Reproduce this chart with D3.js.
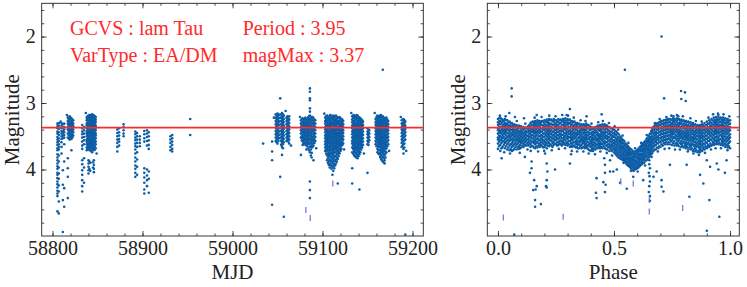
<!DOCTYPE html>
<html>
<head>
<meta charset="utf-8">
<script src="https://cdn.jsdelivr.net/npm/d3@7"></script>
<style>
  body { margin: 0; background: #fff; }
  text { font-family: "Liberation Serif", "DejaVu Serif", serif; }
</style>
</head>
<body>
<svg></svg>
<script>
// light curve of lam Tau: time series (left) and folded on the period (right)

var width = 747;
var height = 287;

// axis settings
var magDomain = [1.5, 5.0];
var mjdDomain = [58788, 59212];
var phaseDomain = [-0.046, 1.04];
var mjdTicks = [58800, 58900, 59000, 59100, 59200];
var phaseTicks = [0.0, 0.5, 1.0];
var magTicks = [2, 3, 4];
var magMax = 3.37;
var infoLeft = ["GCVS : lam Tau", "VarType : EA/DM"];
var infoRight = ["Period : 3.95", "magMax : 3.37"];

// MJD columns: [mjd, [magnitudes]]
var mjdColumns = [
  [58805.5, [3.31,3.35,3.38,3.43,3.46,3.51,3.55,3.59,3.63,3.68,3.71,3.77,3.82,3.86,3.91,3.95,3.99,4.05,4.08,4.13,4.18,4.22,4.27,4.32,4.36,4.40,4.63]],
  [58807, [3.30,3.34,3.39,3.44,3.48,3.53,3.57,3.62,3.66,3.70,3.79,3.88,3.97,4.06,4.14,4.24,4.33,4.48,4.66]],
  [58810, [3.30,3.34,3.38,3.42,3.46,3.50,3.54,3.59,3.66,3.76]],
  [58811.5, [3.32,3.37,3.42,3.45,3.49,3.53,4.01,4.23,4.46,4.94]],
  [58813, [3.31,3.36,3.40,3.44,3.48,3.52,3.62,3.88,4.28,4.56]],
  [58817, [3.22,3.27,3.31,3.36,3.40,3.46,3.52,3.83,3.98,4.11,4.43]],
  [58818, [3.21,3.25,3.30,3.34,3.39,3.43,3.48,3.53]],
  [58819, [3.20,3.24,3.29,3.33,3.38,3.42,3.47,3.51,3.55]],
  [58820, [3.22,3.26,3.31,3.35,3.40,3.44,3.49,3.53]],
  [58821, [3.23,3.28,3.32,3.37,3.41,3.45,3.50,3.54,3.71]],
  [58822, [3.25,3.29,3.34,3.38,3.43,3.47,3.52]],
  [58823, [3.26,3.31,3.35,3.40,3.44,3.49]],
  [58833, [3.33,3.38,3.43,3.47,3.52,3.58,3.64,3.69,3.86,3.92,4.01,4.08,4.16,4.25,4.33]],
  [58835, [3.36,3.41,3.46,3.51,3.56,3.62,3.83,3.97,4.20]],
  [58838, [3.22,3.26,3.31,3.34,3.38,3.43,3.46,3.50,3.55,3.58,3.62,3.67,3.71]],
  [58839, [3.20,3.24,3.29,3.33,3.37,3.41,3.45,3.49,3.53,3.57,3.61,3.65,3.69]],
  [58840, [3.19,3.23,3.27,3.32,3.35,3.39,3.44,3.47,3.51,3.56,3.59,3.63,3.68,3.86,3.91,3.96,4.01,4.06]],
  [58841, [3.18,3.22,3.26,3.30,3.34,3.38,3.42,3.46,3.50,3.54,3.58,3.62,3.66,3.71,3.88,3.99]],
  [58842, [3.18,3.21,3.25,3.30,3.33,3.37,3.42,3.45,3.49,3.54,3.57,3.61,3.66,3.70,3.90,4.02]],
  [58843, [3.19,3.23,3.27,3.31,3.35,3.39,3.43,3.47,3.51,3.55,3.59,3.63,3.67,3.72]],
  [58844, [3.17,3.20,3.24,3.28,3.33,3.36,3.40,3.45,3.48,3.52,3.57,3.60,3.64,3.69,3.74]],
  [58845, [3.18,3.22,3.26,3.30,3.34,3.38,3.42,3.46,3.50,3.54,3.58,3.62,3.66,3.70,3.89,3.97]],
  [58846, [3.19,3.23,3.28,3.31,3.35,3.40,3.43,3.47,3.52,3.55,3.59,3.64,3.67,3.71,3.86,3.93,3.99,4.04]],
  [58847, [3.20,3.24,3.28,3.32,3.36,3.40,3.44,3.48,3.52,3.56,3.60,3.65,3.70]],
  [58848, [3.21,3.25,3.29,3.34,3.37,3.41,3.46,3.49,3.53,3.58,3.62,3.68]],
  [58872, [3.40,3.45,3.50,3.55,3.60,3.66,3.73]],
  [58874, [3.38,3.44,3.49,3.54,3.58,3.64]],
  [58879, [3.32,3.36,3.41,3.46,3.50]],
  [58892, [3.43,3.47,3.52,3.56,3.61,3.65,3.70,3.76,3.82,3.88,3.94,3.99,4.05,4.11]],
  [58894, [3.45,3.50,3.55,3.60,3.66,3.74,3.85,3.96,4.08]],
  [58897, [3.50,3.55,3.60,3.65]],
  [58902, [3.42,3.47,3.53,3.58,3.98,4.05,4.12,4.20,4.30,4.36]],
  [58905, [3.41,3.46,3.51,3.57,3.64,4.00,4.09,4.16,4.25]],
  [58907, [3.44,3.50,3.56,3.63,3.69,4.03,4.14,4.35]],
  [58931, [3.50,3.55,3.60,3.66,3.71]],
  [58933, [3.48,3.53,3.58,3.63,3.69,3.73]],
  [58953, [3.24,3.48]],
  [59034, [3.61]],
  [59044, [3.58,3.73,3.86,4.53]],
  [59048, [3.17,3.22,3.27,3.32,3.37,3.42,3.47,3.52,3.57]],
  [59049, [3.18,3.24,3.29,3.34,3.39,3.44,3.49,3.54,3.59]],
  [59050, [3.16,3.20,3.25,3.30,3.35,3.40,3.45,3.50,3.55,3.61]],
  [59051, [3.17,3.22,3.27,3.32,3.37,3.42,3.47,3.52,3.57]],
  [59052, [3.18,3.23,3.28,3.33,3.38,3.43,3.48,3.53]],
  [59053, [2.93,4.11]],
  [59054, [3.17,3.22,3.27,3.32,3.37,3.42,3.47,3.52,3.57,3.63]],
  [59055, [3.15,3.20,3.25,3.30,3.35,3.40,3.45,3.50,3.55,3.60,3.66,3.78]],
  [59056, [3.17,3.22,3.27,3.32,3.37,3.42,3.47,3.52,3.57,3.62,3.68]],
  [59057, [3.19,3.24,3.29,3.34,3.39,3.44,3.49,3.54,3.59,4.71]],
  [59060, [3.22,3.27,3.32,3.37,3.42,3.47,3.52,3.57]],
  [59061, [3.20,3.25,3.30,3.35,3.40,3.45,3.50,3.55]],
  [59062, [3.23,3.28,3.33,3.38,3.43,3.48,3.53,3.58]],
  [59063, [3.20,3.25,3.30,3.35,3.40,3.45,3.50,3.55,3.61]],
  [59076, [3.26,3.31,3.36,3.41,3.46,3.52,3.78]],
  [59077, [3.24,3.29,3.34,3.39,3.44,3.50,3.56]],
  [59078, [3.23,3.28,3.33,3.38,3.43,3.48,3.53,3.58,3.63]],
  [59079, [3.25,3.31,3.36,3.41,3.46,3.51,3.56,3.61]],
  [59080, [3.24,3.29,3.34,3.39,3.44,3.49,3.54,3.60]],
  [59081, [3.22,3.27,3.32,3.37,3.42,3.47,3.52,3.57,3.63]],
  [59082, [3.25,3.30,3.35,3.40,3.45,3.50,3.55,3.61,3.70]],
  [59083, [3.24,3.29,3.34,3.39,3.44,3.49,3.54,3.59,3.65]],
  [59084, [3.22,3.27,3.32,3.37,3.42,3.47,3.52,3.57,3.62,3.68]],
  [59085, [3.20,3.25,3.30,3.35,3.40,3.45,3.50,3.55,3.61,3.71]],
  [59086, [2.78,2.83,2.93,2.96,3.08,3.13,3.19,3.24,3.29,3.34,3.39,3.44,3.49,3.54,3.60,3.66,3.74,4.18,4.31,4.43]],
  [59087, [3.23,3.28,3.33,3.38,3.43,3.48,3.53,3.58,3.64,3.70,3.79]],
  [59088, [3.21,3.26,3.31,3.36,3.41,3.46,3.51,3.56,3.61,3.67,3.75,3.82]],
  [59089, [3.21,3.26,3.31,3.36,3.41,3.46,3.51,3.56,3.61,3.66]],
  [59090, [3.23,3.28,3.33,3.38,3.43,3.48,3.53,3.58,3.64,3.86]],
  [59091, [3.25,3.30,3.35,3.40,3.45,3.50,3.55,3.60]],
  [59092, [3.26,3.31,3.36,3.41,3.46,3.51,3.57]],
  [59103, [3.22,3.27,3.31,3.36,3.40,3.44,3.49,3.53,3.58,3.62,3.67,3.72]],
  [59104, [3.20,3.25,3.29,3.34,3.38,3.42,3.47,3.51,3.56,3.60,3.65,3.70,3.76]],
  [59105, [3.19,3.24,3.28,3.33,3.37,3.41,3.46,3.50,3.54,3.59,3.63,3.68,3.73,3.79,3.86]],
  [59106, [3.22,3.26,3.31,3.35,3.39,3.44,3.48,3.52,3.57,3.61,3.66,3.71,3.77,3.83,3.90]],
  [59107, [3.21,3.25,3.30,3.34,3.38,3.43,3.47,3.52,3.56,3.60,3.65,3.70,3.75,3.80,3.87,3.93]],
  [59108, [3.19,3.24,3.28,3.33,3.37,3.42,3.46,3.50,3.55,3.59,3.64,3.68,3.73,3.78,3.85,3.91,3.97]],
  [59109, [3.18,3.23,3.27,3.31,3.36,3.40,3.45,3.49,3.53,3.58,3.62,3.67,3.71,3.76,3.82,3.88,3.94]],
  [59110, [3.21,3.25,3.30,3.34,3.39,3.43,3.48,3.52,3.57,3.61,3.66,3.71,3.76,3.81,3.87,3.93,3.99]],
  [59111, [3.20,3.24,3.29,3.33,3.38,3.42,3.46,3.51,3.55,3.60,3.64,3.69,3.74,3.78,3.84,3.90,3.96,4.08]],
  [59112, [3.19,3.23,3.28,3.32,3.37,3.41,3.45,3.50,3.54,3.59,3.63,3.68,3.72,3.78,3.83,3.89,3.95,4.02]],
  [59113, [3.22,3.26,3.30,3.35,3.39,3.44,3.48,3.52,3.57,3.61,3.66,3.70,3.75,3.81,3.86,3.92,3.98]],
  [59114, [3.20,3.25,3.29,3.33,3.38,3.42,3.47,3.51,3.56,3.60,3.65,3.69,3.74,3.80,3.87,3.94]],
  [59115, [3.19,3.24,3.28,3.32,3.37,3.41,3.46,3.50,3.54,3.59,3.63,3.68,3.73,3.79,3.85,3.91]],
  [59116, [3.21,3.26,3.30,3.35,3.39,3.44,3.48,3.53,3.57,3.61,3.66,3.71,3.76,3.82,3.88]],
  [59117, [3.23,3.27,3.31,3.36,3.40,3.45,3.49,3.53,3.58,3.62,3.67,3.72,3.77,3.84,4.21]],
  [59118, [3.22,3.28,3.32,3.37,3.41,3.46,3.50,3.55,3.59,3.64,3.69,3.74,3.80]],
  [59119, [3.21,3.26,3.30,3.34,3.39,3.43,3.48,3.52,3.56,3.61,3.65,3.70,3.76]],
  [59120, [3.23,3.27,3.32,3.36,3.41,3.45,3.50,3.54,3.59,3.63,3.68,3.72]],
  [59121, [3.24,3.28,3.33,3.37,3.42,3.46,3.51,3.55,3.60,3.64,3.69]],
  [59122, [3.25,3.30,3.34,3.39,3.44,3.48,3.53,3.58,3.63]],
  [59123, [3.27,3.32,3.36,3.41,3.45,3.50,3.55,3.61]],
  [59133, [3.20,3.25,3.29,3.34,3.38,3.43,3.47,3.52,3.57,3.61,3.67,3.74,3.98,4.21]],
  [59134, [3.19,3.23,3.28,3.32,3.36,3.41,3.45,3.50,3.55,3.59,3.64,3.69,3.76]],
  [59135, [3.18,3.22,3.27,3.31,3.35,3.40,3.44,3.49,3.53,3.58,3.62,3.67,3.72,3.78]],
  [59136, [3.20,3.24,3.29,3.33,3.37,3.42,3.46,3.51,3.55,3.60,3.64,3.69,3.74,3.80]],
  [59137, [3.21,3.25,3.30,3.34,3.39,3.43,3.48,3.52,3.57,3.61,3.66,3.70,3.75,3.81]],
  [59138, [3.18,3.22,3.26,3.31,3.35,3.40,3.44,3.49,3.53,3.58,3.62,3.67,3.71,3.77,3.82]],
  [59139, [3.19,3.23,3.28,3.32,3.37,3.41,3.46,3.50,3.55,3.59,3.64,3.68,3.73,3.79,3.83]],
  [59140, [3.21,3.25,3.29,3.34,3.38,3.43,3.47,3.52,3.56,3.61,3.65,3.70,3.75,3.80]],
  [59141, [3.22,3.26,3.31,3.35,3.40,3.44,3.49,3.53,3.58,3.62,3.67,3.72,3.77,4.30]],
  [59142, [3.23,3.27,3.32,3.36,3.41,3.45,3.50,3.54,3.59,3.63,3.68,3.74]],
  [59143, [3.24,3.29,3.33,3.38,3.42,3.47,3.51,3.56,3.60,3.65,3.70]],
  [59144, [3.26,3.31,3.35,3.40,3.45,3.49,3.54,3.58,3.63,3.67]],
  [59145, [3.28,3.33,3.38,3.43,3.48,3.53,3.58,3.63]],
  [59150, [3.38,3.43,3.47,3.52,3.57,3.62,4.05]],
  [59151, [3.40,3.44,3.49,3.54,3.59,3.63]],
  [59152, [3.41,3.46,3.51,3.56]],
  [59159, [3.24,3.29,3.33,3.38,3.42,3.47,3.52,3.57,3.62]],
  [59160, [3.21,3.26,3.31,3.35,3.40,3.44,3.49,3.54,3.59,3.65]],
  [59161, [3.19,3.23,3.28,3.32,3.37,3.41,3.46,3.50,3.55,3.59,3.64,3.69,3.74]],
  [59162, [3.20,3.25,3.29,3.34,3.38,3.43,3.47,3.52,3.56,3.61,3.66,3.71,3.76]],
  [59163, [3.21,3.26,3.30,3.35,3.39,3.44,3.48,3.53,3.57,3.62,3.66,3.71,3.77]],
  [59164, [3.19,3.24,3.28,3.33,3.37,3.42,3.46,3.51,3.55,3.60,3.65,3.70,3.75,3.81]],
  [59165, [3.18,3.22,3.27,3.31,3.36,3.40,3.45,3.49,3.54,3.58,3.63,3.67,3.72,3.78,3.84]],
  [59166, [3.21,3.25,3.29,3.33,3.38,3.42,3.47,3.51,3.56,3.60,3.65,3.69,3.74,3.80,3.86]],
  [59167, [2.50,3.20,3.25,3.29,3.34,3.38,3.43,3.47,3.52,3.56,3.61,3.65,3.70,3.75,3.81,3.88]],
  [59168, [3.22,3.26,3.31,3.35,3.40,3.44,3.49,3.53,3.58,3.62,3.67,3.72,3.77,3.83,3.89]],
  [59169, [3.23,3.27,3.32,3.36,3.41,3.45,3.50,3.54,3.59,3.63,3.68,3.73,3.79,3.86,3.91]],
  [59170, [3.24,3.29,3.33,3.38,3.42,3.47,3.51,3.56,3.61,3.65,3.70,3.76,3.82]],
  [59171, [3.22,3.26,3.31,3.35,3.40,3.44,3.49,3.53,3.58,3.63,3.68,3.74]],
  [59172, [3.25,3.29,3.34,3.38,3.43,3.48,3.53,3.59,3.65]],
  [59173, [3.27,3.32,3.36,3.41,3.46,3.51,3.56,3.62]],
  [59188, [3.26,3.31,3.36,3.40,3.45,3.50,3.55,3.60,3.66]],
  [59189, [3.25,3.30,3.34,3.39,3.43,3.48,3.53,3.58,3.64]],
  [59190, [3.24,3.29,3.33,3.38,3.42,3.47,3.52,3.57,3.62,3.69,3.76]],
  [59191, [3.26,3.31,3.36,3.41,3.46,3.51,3.56,3.61,3.67]],
  [59192, [3.28,3.34,3.39,3.44,3.49,3.55,4.98]]
];
// stray points round the edges of the seasons: [mjd, mag]
var mjdEdge = [[58809,3.28],[58816,3.18],[58837,3.15],[58849,3.76],[59046,3.22],[59059,3.12],[59065,3.64],
  [59075,3.21],[59093,3.68],[59102,3.16],[59124,3.70],[59132,3.15],[59146,3.76],[59158,3.15],[59174,3.72],
  [59187,3.21],[59193,3.72]];
var mjdDashes = [[59081.5, 4.61], [59086.4, 4.73], [59111.5, 4.21]];

// folded curve: phases and the magnitudes seen at each phase
var bandPhase = [0.00,0.01,0.02,0.03,0.04,0.05,0.06,0.07,0.08,0.09,0.10,0.11,0.12,0.13,0.14,0.15,0.16,0.17,0.18,0.19,
  0.20,0.21,0.22,0.23,0.24,0.25,0.26,0.27,0.28,0.29,0.30,0.31,0.32,0.33,0.34,0.35,0.36,0.37,0.38,0.39,
  0.40,0.41,0.42,0.43,0.44,0.45,0.46,0.47,0.48,0.49,0.50,0.51,0.52,0.53,0.54,0.55,0.56,0.57,0.58,0.59,
  0.60,0.61,0.62,0.63,0.64,0.65,0.66,0.67,0.68,0.69,0.70,0.71,0.72,0.73,0.74,0.75,0.76,0.77,0.78,0.79,
  0.80,0.81,0.82,0.83,0.84,0.85,0.86,0.87,0.88,0.89,0.90,0.91,0.92,0.93,0.94,0.95,0.96,0.97,0.98,0.99,1.00];
var bandMags = [
  [3.24,3.29,3.33,3.38,3.41,3.46,3.52,3.55,3.61,3.69],
  [3.22,3.27,3.32,3.36,3.42,3.45,3.50,3.56,3.63,3.72],
  [3.25,3.28,3.34,3.39,3.43,3.48,3.53,3.58,3.66],
  [3.24,3.30,3.35,3.40,3.44,3.47,3.54,3.60,3.68],
  [3.26,3.31,3.36,3.39,3.45,3.51,3.56,3.62,3.70],
  [3.28,3.34,3.38,3.43,3.48,3.52,3.57,3.64,3.71],
  [3.30,3.35,3.41,3.45,3.49,3.55,3.60,3.66,3.72],
  [3.32,3.36,3.42,3.47,3.51,3.56,3.62,3.69],
  [3.33,3.39,3.43,3.48,3.53,3.57,3.63,3.70],
  [3.34,3.38,3.44,3.49,3.54,3.59,3.65,3.69],
  [3.35,3.41,3.45,3.50,3.55,3.60,3.67],
  [3.36,3.40,3.46,3.51,3.56,3.61,3.66],
  [3.37,3.42,3.47,3.52,3.57,3.64],
  [3.35,3.40,3.44,3.50,3.54,3.59,3.64],
  [3.30,3.36,3.41,3.45,3.50,3.56,3.61,3.66],
  [3.28,3.33,3.39,3.43,3.48,3.53,3.58,3.65],
  [3.27,3.32,3.37,3.42,3.46,3.51,3.57,3.62,3.68],
  [3.26,3.31,3.36,3.42,3.47,3.53,3.58,3.67],
  [3.27,3.30,3.35,3.41,3.45,3.50,3.56,3.61,3.66],
  [3.27,3.33,3.38,3.43,3.49,3.54,3.59,3.65],
  [3.26,3.31,3.36,3.40,3.46,3.51,3.57,3.62,3.66],
  [3.25,3.29,3.35,3.40,3.45,3.50,3.55,3.61,3.68],
  [3.24,3.30,3.34,3.39,3.44,3.49,3.54,3.60,3.65],
  [3.25,3.31,3.36,3.41,3.47,3.52,3.57,3.64],
  [3.24,3.28,3.33,3.38,3.43,3.48,3.53,3.58,3.63],
  [3.26,3.31,3.35,3.40,3.45,3.51,3.56,3.62],
  [3.24,3.29,3.34,3.39,3.44,3.49,3.54,3.59,3.63],
  [3.25,3.30,3.36,3.41,3.46,3.50,3.56,3.62],
  [3.24,3.28,3.33,3.38,3.42,3.48,3.53,3.57,3.62],
  [3.23,3.29,3.34,3.39,3.45,3.49,3.55,3.63],
  [3.24,3.29,3.33,3.39,3.44,3.50,3.54,3.60,3.64],
  [3.25,3.30,3.36,3.41,3.46,3.51,3.57,3.66],
  [3.27,3.32,3.37,3.42,3.47,3.52,3.56,3.61,3.66],
  [3.28,3.33,3.38,3.44,3.48,3.53,3.59,3.65],
  [3.30,3.34,3.40,3.45,3.49,3.55,3.60,3.66],
  [3.31,3.36,3.42,3.46,3.51,3.57,3.62,3.68],
  [3.32,3.37,3.41,3.47,3.52,3.56,3.63,3.68],
  [3.32,3.38,3.41,3.46,3.52,3.56,3.60,3.66],
  [3.31,3.35,3.41,3.47,3.51,3.55,3.61,3.66],
  [3.33,3.38,3.44,3.48,3.53,3.59,3.63,3.70],
  [3.36,3.40,3.46,3.51,3.57,3.61,3.66,3.72],
  [3.37,3.43,3.47,3.52,3.56,3.62,3.67,3.72],
  [3.36,3.41,3.45,3.51,3.55,3.61,3.65,3.70],
  [3.34,3.39,3.45,3.49,3.54,3.58,3.63,3.68],
  [3.33,3.38,3.42,3.48,3.53,3.59,3.63,3.68],
  [3.32,3.37,3.43,3.47,3.52,3.57,3.62,3.68],
  [3.32,3.36,3.42,3.46,3.51,3.57,3.61,3.68],
  [3.34,3.39,3.44,3.50,3.54,3.59,3.64,3.70],
  [3.36,3.42,3.46,3.51,3.56,3.62,3.66,3.72],
  [3.38,3.43,3.49,3.53,3.58,3.63,3.67,3.72],
  [3.40,3.45,3.50,3.56,3.60,3.65,3.69,3.74],
  [3.43,3.48,3.54,3.58,3.63,3.68,3.73,3.78],
  [3.47,3.53,3.57,3.62,3.67,3.72,3.77,3.82],
  [3.52,3.57,3.61,3.66,3.71,3.76,3.80,3.84],
  [3.56,3.61,3.66,3.70,3.75,3.79,3.83,3.86],
  [3.61,3.65,3.70,3.74,3.78,3.83,3.86,3.90],
  [3.65,3.69,3.74,3.77,3.81,3.85,3.90,3.94],
  [3.69,3.73,3.77,3.82,3.85,3.89,3.93,3.97],
  [3.72,3.76,3.81,3.84,3.88,3.92,3.96,4.01],
  [3.73,3.77,3.80,3.85,3.89,3.93,3.97,4.00],
  [3.71,3.75,3.79,3.83,3.88,3.91,3.95,3.98],
  [3.67,3.71,3.76,3.79,3.83,3.87,3.91,3.95],
  [3.63,3.67,3.71,3.76,3.79,3.84,3.88,3.92],
  [3.59,3.63,3.68,3.71,3.75,3.80,3.84,3.90],
  [3.54,3.58,3.63,3.67,3.71,3.76,3.81,3.86],
  [3.49,3.54,3.58,3.63,3.68,3.72,3.77,3.82],
  [3.42,3.47,3.53,3.57,3.62,3.67,3.72,3.77],
  [3.36,3.41,3.46,3.52,3.56,3.61,3.66,3.72],
  [3.32,3.37,3.43,3.47,3.52,3.57,3.63,3.70],
  [3.30,3.35,3.40,3.45,3.51,3.55,3.61,3.68],
  [3.28,3.33,3.38,3.44,3.48,3.53,3.59,3.66],
  [3.27,3.32,3.37,3.42,3.47,3.52,3.57,3.64],
  [3.26,3.31,3.36,3.41,3.46,3.51,3.56,3.62],
  [3.25,3.30,3.35,3.40,3.45,3.50,3.55,3.62],
  [3.24,3.29,3.34,3.40,3.44,3.49,3.55,3.62],
  [3.25,3.30,3.35,3.39,3.45,3.50,3.56,3.63],
  [3.24,3.29,3.35,3.40,3.45,3.51,3.57,3.64],
  [3.23,3.28,3.34,3.39,3.44,3.50,3.55,3.60,3.64],
  [3.24,3.30,3.34,3.40,3.45,3.50,3.56,3.65],
  [3.25,3.30,3.36,3.41,3.46,3.51,3.57,3.62,3.66],
  [3.26,3.31,3.36,3.42,3.47,3.52,3.58,3.67],
  [3.27,3.32,3.38,3.43,3.48,3.53,3.59,3.63,3.68],
  [3.28,3.33,3.38,3.44,3.49,3.54,3.60,3.70],
  [3.29,3.34,3.39,3.44,3.50,3.55,3.61,3.65,3.70],
  [3.30,3.35,3.41,3.46,3.51,3.56,3.62,3.72],
  [3.32,3.37,3.42,3.47,3.52,3.58,3.63,3.68,3.73],
  [3.33,3.38,3.43,3.49,3.54,3.59,3.64,3.74],
  [3.33,3.39,3.44,3.49,3.54,3.60,3.65,3.69,3.74],
  [3.32,3.37,3.43,3.48,3.53,3.58,3.63,3.72],
  [3.30,3.36,3.41,3.46,3.51,3.56,3.62,3.70],
  [3.28,3.33,3.39,3.44,3.49,3.54,3.60,3.68],
  [3.26,3.31,3.37,3.42,3.47,3.52,3.57,3.66],
  [3.24,3.30,3.35,3.40,3.45,3.50,3.55,3.64],
  [3.22,3.28,3.33,3.38,3.43,3.48,3.54,3.59,3.63],
  [3.21,3.27,3.32,3.37,3.42,3.47,3.52,3.57,3.62],
  [3.21,3.26,3.32,3.36,3.42,3.46,3.52,3.57,3.62],
  [3.22,3.28,3.33,3.38,3.43,3.48,3.54,3.63],
  [3.22,3.27,3.33,3.38,3.43,3.49,3.54,3.59,3.64],
  [3.23,3.29,3.34,3.39,3.44,3.50,3.55,3.61,3.66],
  [3.24,3.29,3.35,3.40,3.45,3.51,3.56,3.62,3.67],
  [3.26,3.31,3.36,3.41,3.47,3.52,3.58,3.68]
];
// in-between phases, read separately
var bandPhase2 = [0.005,0.015,0.025,0.035,0.045,0.055,0.065,0.075,0.085,0.095,0.105,0.115,0.125,0.135,0.145,0.155,0.165,0.175,0.185,0.195,
  0.205,0.215,0.225,0.235,0.245,0.255,0.265,0.275,0.285,0.295,0.305,0.315,0.325,0.335,0.345,0.355,0.365,0.375,0.385,0.395,
  0.405,0.415,0.425,0.435,0.445,0.455,0.465,0.475,0.485,0.495,0.505,0.515,0.525,0.535,0.545,0.555,0.565,0.575,0.585,0.595,
  0.605,0.615,0.625,0.635,0.645,0.655,0.665,0.675,0.685,0.695,0.705,0.715,0.725,0.735,0.745,0.755,0.765,0.775,0.785,0.795,
  0.805,0.815,0.825,0.835,0.845,0.855,0.865,0.875,0.885,0.895,0.905,0.915,0.925,0.935,0.945,0.955,0.965,0.975,0.985,0.995];
var bandMags2 = [
  [3.23,3.27,3.31,3.36,3.40,3.44,3.49,3.53,3.58,3.65],
  [3.24,3.30,3.37,3.41,3.46,3.51,3.55,3.60,3.68],
  [3.27,3.32,3.37,3.42,3.46,3.51,3.57,3.63],
  [3.26,3.33,3.38,3.42,3.49,3.53,3.58,3.65],
  [3.29,3.34,3.41,3.46,3.50,3.55,3.60,3.67],
  [3.31,3.36,3.40,3.46,3.51,3.55,3.62,3.69],
  [3.33,3.39,3.44,3.48,3.53,3.58,3.64,3.71],
  [3.34,3.40,3.45,3.50,3.55,3.60,3.66],
  [3.36,3.41,3.46,3.51,3.56,3.61,3.67],
  [3.37,3.42,3.47,3.52,3.57,3.63,3.68],
  [3.38,3.43,3.48,3.53,3.58,3.64],
  [3.39,3.44,3.49,3.54,3.59,3.63],
  [3.38,3.44,3.49,3.55,3.61],
  [3.33,3.38,3.42,3.47,3.52,3.57,3.62],
  [3.29,3.33,3.38,3.43,3.48,3.53,3.59,3.64],
  [3.30,3.35,3.41,3.45,3.50,3.55,3.60,3.67],
  [3.29,3.34,3.39,3.44,3.49,3.54,3.60,3.65],
  [3.28,3.33,3.39,3.44,3.50,3.55,3.61,3.64],
  [3.29,3.32,3.38,3.43,3.48,3.53,3.58,3.63],
  [3.28,3.34,3.40,3.46,3.51,3.56,3.61,3.67],
  [3.28,3.33,3.38,3.43,3.48,3.54,3.59,3.64],
  [3.27,3.32,3.37,3.42,3.47,3.52,3.58,3.64],
  [3.26,3.32,3.37,3.42,3.46,3.51,3.56,3.62],
  [3.27,3.33,3.38,3.44,3.49,3.54,3.60,3.66],
  [3.26,3.31,3.36,3.41,3.46,3.50,3.55,3.61],
  [3.28,3.33,3.38,3.43,3.48,3.53,3.59,3.64],
  [3.26,3.31,3.37,3.42,3.47,3.52,3.57,3.61],
  [3.27,3.33,3.38,3.43,3.48,3.53,3.59,3.64],
  [3.26,3.31,3.36,3.40,3.45,3.51,3.55,3.60],
  [3.26,3.31,3.37,3.42,3.47,3.52,3.58,3.61],
  [3.26,3.31,3.36,3.42,3.47,3.52,3.57,3.62],
  [3.28,3.33,3.38,3.44,3.49,3.54,3.60,3.64],
  [3.29,3.35,3.40,3.45,3.50,3.54,3.59,3.64],
  [3.31,3.36,3.41,3.46,3.51,3.57,3.62,3.67],
  [3.32,3.37,3.43,3.47,3.53,3.58,3.63,3.68],
  [3.34,3.39,3.44,3.49,3.54,3.59,3.65],
  [3.34,3.39,3.44,3.50,3.54,3.58,3.61,3.67],
  [3.35,3.40,3.44,3.49,3.54,3.58,3.63,3.68],
  [3.33,3.38,3.44,3.49,3.54,3.58,3.64,3.68],
  [3.35,3.41,3.46,3.51,3.55,3.61,3.65,3.71],
  [3.39,3.44,3.49,3.54,3.59,3.64,3.69],
  [3.39,3.44,3.49,3.54,3.59,3.64,3.69],
  [3.37,3.43,3.48,3.53,3.57,3.62,3.67],
  [3.36,3.41,3.47,3.51,3.56,3.61,3.66],
  [3.35,3.40,3.45,3.50,3.55,3.61,3.66],
  [3.34,3.39,3.45,3.49,3.54,3.60,3.65],
  [3.34,3.39,3.44,3.49,3.53,3.59,3.64,3.69],
  [3.36,3.41,3.47,3.52,3.57,3.62,3.67],
  [3.38,3.44,3.48,3.54,3.59,3.64,3.69],
  [3.40,3.46,3.51,3.56,3.61,3.65,3.70],
  [3.42,3.47,3.52,3.58,3.62,3.67,3.71,3.76],
  [3.45,3.51,3.56,3.60,3.65,3.70,3.75,3.80],
  [3.50,3.55,3.59,3.64,3.69,3.74,3.79,3.83],
  [3.54,3.59,3.64,3.68,3.73,3.78,3.82,3.85],
  [3.58,3.63,3.68,3.72,3.77,3.81,3.85,3.88],
  [3.63,3.67,3.72,3.76,3.80,3.84,3.88,3.92],
  [3.67,3.71,3.75,3.79,3.83,3.87,3.92,3.95],
  [3.70,3.75,3.79,3.83,3.87,3.91,3.95,3.99],
  [3.74,3.78,3.82,3.86,3.90,3.94,3.98,4.02],
  [3.72,3.76,3.82,3.87,3.91,3.95,3.99],
  [3.69,3.73,3.77,3.81,3.85,3.89,3.93,3.97],
  [3.65,3.69,3.73,3.77,3.81,3.85,3.89,3.93],
  [3.61,3.65,3.69,3.73,3.78,3.82,3.86,3.90],
  [3.57,3.61,3.65,3.69,3.73,3.78,3.82,3.87],
  [3.52,3.56,3.60,3.65,3.69,3.74,3.79,3.84],
  [3.46,3.51,3.56,3.60,3.65,3.70,3.75,3.80],
  [3.39,3.44,3.50,3.55,3.59,3.64,3.69,3.75],
  [3.34,3.39,3.44,3.49,3.54,3.59,3.64,3.70],
  [3.31,3.35,3.40,3.45,3.50,3.55,3.60,3.67],
  [3.29,3.33,3.38,3.43,3.48,3.53,3.58,3.65],
  [3.27,3.31,3.36,3.41,3.46,3.51,3.56,3.62],
  [3.26,3.30,3.35,3.40,3.45,3.50,3.55,3.60],
  [3.25,3.29,3.34,3.39,3.44,3.49,3.54,3.59],
  [3.24,3.28,3.33,3.38,3.43,3.48,3.53,3.59],
  [3.26,3.32,3.37,3.42,3.47,3.52,3.58],
  [3.23,3.27,3.32,3.37,3.42,3.47,3.53,3.60],
  [3.26,3.32,3.37,3.42,3.48,3.53,3.61],
  [3.25,3.31,3.36,3.42,3.47,3.53,3.58,3.62],
  [3.27,3.32,3.37,3.43,3.48,3.53,3.60],
  [3.27,3.33,3.38,3.44,3.49,3.54,3.60,3.64],
  [3.28,3.34,3.39,3.45,3.50,3.55,3.61,3.65],
  [3.29,3.35,3.41,3.46,3.51,3.56,3.62,3.66],
  [3.30,3.36,3.41,3.47,3.52,3.57,3.63,3.67],
  [3.32,3.37,3.42,3.47,3.53,3.58,3.63,3.68],
  [3.33,3.38,3.44,3.49,3.54,3.59,3.65,3.70],
  [3.35,3.40,3.45,3.50,3.55,3.61,3.66,3.71],
  [3.35,3.41,3.46,3.51,3.57,3.62,3.67,3.72],
  [3.35,3.41,3.46,3.51,3.57,3.62,3.67,3.71],
  [3.34,3.40,3.45,3.50,3.55,3.61,3.66,3.69],
  [3.33,3.38,3.43,3.49,3.54,3.59,3.65,3.67],
  [3.31,3.36,3.41,3.46,3.52,3.57,3.63,3.66],
  [3.28,3.34,3.39,3.44,3.49,3.55,3.61,3.64],
  [3.26,3.32,3.37,3.42,3.47,3.52,3.58,3.62],
  [3.25,3.30,3.35,3.40,3.45,3.51,3.56,3.61],
  [3.24,3.29,3.34,3.39,3.44,3.50,3.55,3.60],
  [3.24,3.29,3.34,3.39,3.44,3.49,3.55,3.60],
  [3.25,3.30,3.35,3.41,3.46,3.51,3.57,3.61],
  [3.25,3.30,3.36,3.41,3.46,3.51,3.57,3.62],
  [3.26,3.31,3.37,3.42,3.47,3.53,3.58,3.64],
  [3.27,3.32,3.38,3.43,3.49,3.54,3.60,3.65]
];
// stray points just outside the band: [phase, mag]
var phaseEdge = [
  [0.008,3.19],[0.027,3.74],[0.033,3.20],[0.052,3.76],[0.081,3.27],[0.094,3.75],[0.118,3.31],[0.127,3.70],
  [0.141,3.72],[0.158,3.22],[0.173,3.73],[0.188,3.21],[0.199,3.72],[0.221,3.19],[0.232,3.71],[0.248,3.20],
  [0.262,3.69],[0.277,3.18],[0.289,3.68],[0.302,3.19],[0.318,3.72],[0.327,3.22],[0.341,3.73],[0.356,3.26],
  [0.368,3.73],[0.377,3.27],[0.391,3.76],[0.403,3.31],[0.418,3.77],[0.432,3.29],[0.441,3.73],[0.452,3.27],
  [0.469,3.75],[0.478,3.30],[0.492,3.79],[0.503,3.35],[0.518,3.40],[0.537,3.49],[0.541,3.90],[0.562,3.60],
  [0.573,4.02],[0.591,3.68],[0.602,4.03],[0.617,3.60],[0.634,3.94],[0.641,3.48],[0.662,3.81],[0.676,3.30],
  [0.689,3.73],[0.697,3.24],[0.718,3.69],[0.726,3.21],[0.738,3.68],[0.747,3.19],[0.763,3.70],[0.771,3.18],
  [0.784,3.70],[0.797,3.20],[0.818,3.73],[0.829,3.23],[0.842,3.76],[0.853,3.27],[0.866,3.78],[0.878,3.28],
  [0.892,3.75],[0.907,3.22],[0.918,3.70],[0.927,3.17],[0.938,3.68],[0.948,3.16],[0.961,3.68],[0.972,3.17],
  [0.989,3.71],[0.997,3.20]
];
var phaseOutliers = [
  [0.059,2.78],[0.059,2.90],[0.049,3.15],[0.073,3.21],[0.112,3.23],[0.167,3.18],[0.296,3.18],[0.31,3.09],
  [0.382,3.20],[0.447,3.17],[0.547,2.50],[0.705,2.00],[0.716,2.93],[0.789,2.82],[0.806,2.84],[0.79,2.94],
  [0.809,2.97],[0.756,3.20],[0.777,3.20],[0.95,3.18],
  [0.016,3.83],[0.07,4.98],[0.116,3.81],[0.138,4.05],[0.145,3.88],[0.145,3.98],[0.152,4.31],[0.156,4.16],
  [0.16,4.46],[0.16,4.56],[0.162,4.30],[0.167,4.25],[0.185,4.52],[0.203,3.76],[0.21,3.91],[0.213,4.03],
  [0.21,4.16],[0.207,4.25],[0.21,4.27],[0.246,4.00],[0.31,3.91],[0.315,3.77],[0.425,4.13],[0.425,4.43],
  [0.422,4.35],[0.458,3.83],[0.461,3.93],[0.461,4.05],[0.454,4.19],[0.464,4.23],[0.461,4.34],[0.483,3.86],
  [0.483,4.03],[0.497,4.03],[0.512,4.00],[0.526,4.20],[0.555,4.29],[0.583,4.11],[0.626,4.16],[0.67,4.11],
  [0.684,4.03],[0.705,4.16],[0.705,4.26],[0.713,4.33],[0.741,3.93],[0.813,3.93],[0.825,4.41],[0.871,4.08],
  [0.885,4.21],[0.9,3.86],[0.9,4.92],[0.911,4.46],[0.914,3.96],[0.943,3.91],[0.95,4.00],[0.954,4.71],
  [0.978,4.05],[0.985,3.86],
  [0.652,3.86],[0.652,3.92],[0.655,3.98],[0.650,4.05],[0.653,4.10],[0.655,4.18],[0.652,4.25],[0.650,4.34],
  [0.655,4.40],[0.655,4.47]
];
var phaseDashes = [[0.023,4.72],[0.281,4.71],[0.529,4.18],[0.583,4.21],[0.652,4.46],[0.652,4.63],[0.796,4.58]];

var dotColor = "#0C5DA5";
var dashColor = "#6670ea";
var red = "#ff2a2a";
var plotTop = 3.3, plotBottom = 236;

var svg = d3.select("svg")
      .attr("width", width)
      .attr("height", height);

var yScale = d3.scaleLinear().domain(magDomain).range([plotTop, plotBottom]);

var range = function(a, b, step) {
      var out = [];
      for (var v = a; v <= b + 1e-9; v += step) out.push(+v.toFixed(4));
      return out;
}
var magMinor = range(1.6, 4.8, 0.2);

// draw one panel: frame, ticks on four sides, labels
var drawPanel = function(x0, x1, xScale, majorX, minorX, fmt, xLabel) {
      var g = svg.append("g");
      var sides = [
            {axis: d3.axisBottom(xScale), pos: "translate(0," + plotBottom + ")", major: majorX, minor: minorX, fmt: fmt, pad: 5},
            {axis: d3.axisTop(xScale), pos: "translate(0," + plotTop + ")", major: majorX, minor: minorX, fmt: null, pad: 5},
            {axis: d3.axisLeft(yScale), pos: "translate(" + x0 + ",0)", major: magTicks, minor: magMinor, fmt: d3.format("d"), pad: 6},
            {axis: d3.axisRight(yScale), pos: "translate(" + x1 + ",0)", major: magTicks, minor: magMinor, fmt: null, pad: 5}
      ];
      sides.forEach(function(s) {
            var minor = g.append("g").attr("transform", s.pos)
                  .call(s.axis.tickValues(s.minor).tickSize(-2.6).tickFormat(""));
            minor.select(".domain").remove();
            var major = g.append("g").attr("transform", s.pos)
                  .call(s.axis.tickValues(s.major).tickSize(-5).tickPadding(s.pad)
                        .tickFormat(s.fmt ? s.fmt : ""));
            major.select(".domain").remove();
            major.attr("font-family", null).attr("font-size", 20);
            major.selectAll(".tick text").attr("fill", "#222");
      });
      g.selectAll(".tick line").attr("stroke", "#222").attr("stroke-width", 0.8);
      g.append("rect")
            .attr("x", x0).attr("y", plotTop)
            .attr("width", x1 - x0).attr("height", plotBottom - plotTop)
            .attr("fill", "none").attr("stroke", "#222").attr("stroke-width", 0.9);
      svg.append("text")
            .attr("x", (x0 + x1) / 2).attr("y", 279)
            .attr("text-anchor", "middle").attr("font-size", 21).attr("fill", "#222")
            .text(xLabel);
      svg.append("text")
            .attr("transform", "translate(" + (x0 - 22.5) + "," + ((plotTop + plotBottom) / 2) + ") rotate(-90)")
            .attr("text-anchor", "middle").attr("font-size", 21).attr("fill", "#222")
            .text("Magnitude");
      return g;
}

var drawDots = function(points, xScale) {
      svg.append("g").selectAll("circle")
            .data(points)
            .enter()
            .append("circle")
                  .attr("cx", d => xScale(d[0]))
                  .attr("cy", d => yScale(d[1]))
                  .attr("r", 1.3)
                  .style("fill", dotColor);
}

var drawDashes = function(points, xScale) {
      svg.append("g").selectAll("line")
            .data(points)
            .enter()
            .append("line")
                  .attr("x1", d => xScale(d[0])).attr("x2", d => xScale(d[0]))
                  .attr("y1", d => yScale(d[1] - 0.045)).attr("y2", d => yScale(d[1] + 0.045))
                  .attr("stroke", dashColor).attr("stroke-width", 1.2);
}

var drawMagMax = function(x0, x1) {
      svg.append("line")
            .attr("x1", x0).attr("x2", x1)
            .attr("y1", yScale(magMax)).attr("y2", yScale(magMax))
            .attr("stroke", red).attr("stroke-width", 1.6);
}

// left panel: time series
var xMjd = d3.scaleLinear().domain(mjdDomain).range([41.7, 423.3]);
drawPanel(41.7, 423.3, xMjd, mjdTicks, range(58800, 59200, 20), d3.format("d"), "MJD");

var mjdPoints = [];
mjdColumns.forEach(function(c) {
      c[1].forEach(function(m) { mjdPoints.push([c[0], m]); });
});
drawDots(mjdPoints.concat(mjdEdge), xMjd);
drawDashes(mjdDashes, xMjd);
drawMagMax(41.7, 423.3);

// right panel: folded on the period
var xPhase = d3.scaleLinear().domain(phaseDomain).range([487.3, 739.3]);
drawPanel(487.3, 739.3, xPhase, phaseTicks, range(0, 1, 0.1), d3.format(".1f"), "Phase");

var phasePoints = [];
bandPhase.forEach(function(p, i) {
      bandMags[i].forEach(function(m) { phasePoints.push([p, m]); });
});
bandPhase2.forEach(function(p, i) {
      bandMags2[i].forEach(function(m) { phasePoints.push([p, m]); });
});
phasePoints = phasePoints.concat(phaseEdge, phaseOutliers);
drawDots(phasePoints, xPhase);
drawDashes(phaseDashes, xPhase);
drawMagMax(487.3, 739.3);

// info text in the left panel
svg.selectAll("text.infoL")
      .data(infoLeft)
      .enter()
      .append("text")
            .attr("x", 70).attr("y", (d, i) => 35 + i * 27)
            .attr("font-size", 20).attr("fill", red)
            .text(d => d);
svg.selectAll("text.infoR")
      .data(infoRight)
      .enter()
      .append("text")
            .attr("x", 242.7).attr("y", (d, i) => 35 + i * 27)
            .attr("font-size", 20).attr("fill", red)
            .text(d => d);
</script>
</body>
</html>
